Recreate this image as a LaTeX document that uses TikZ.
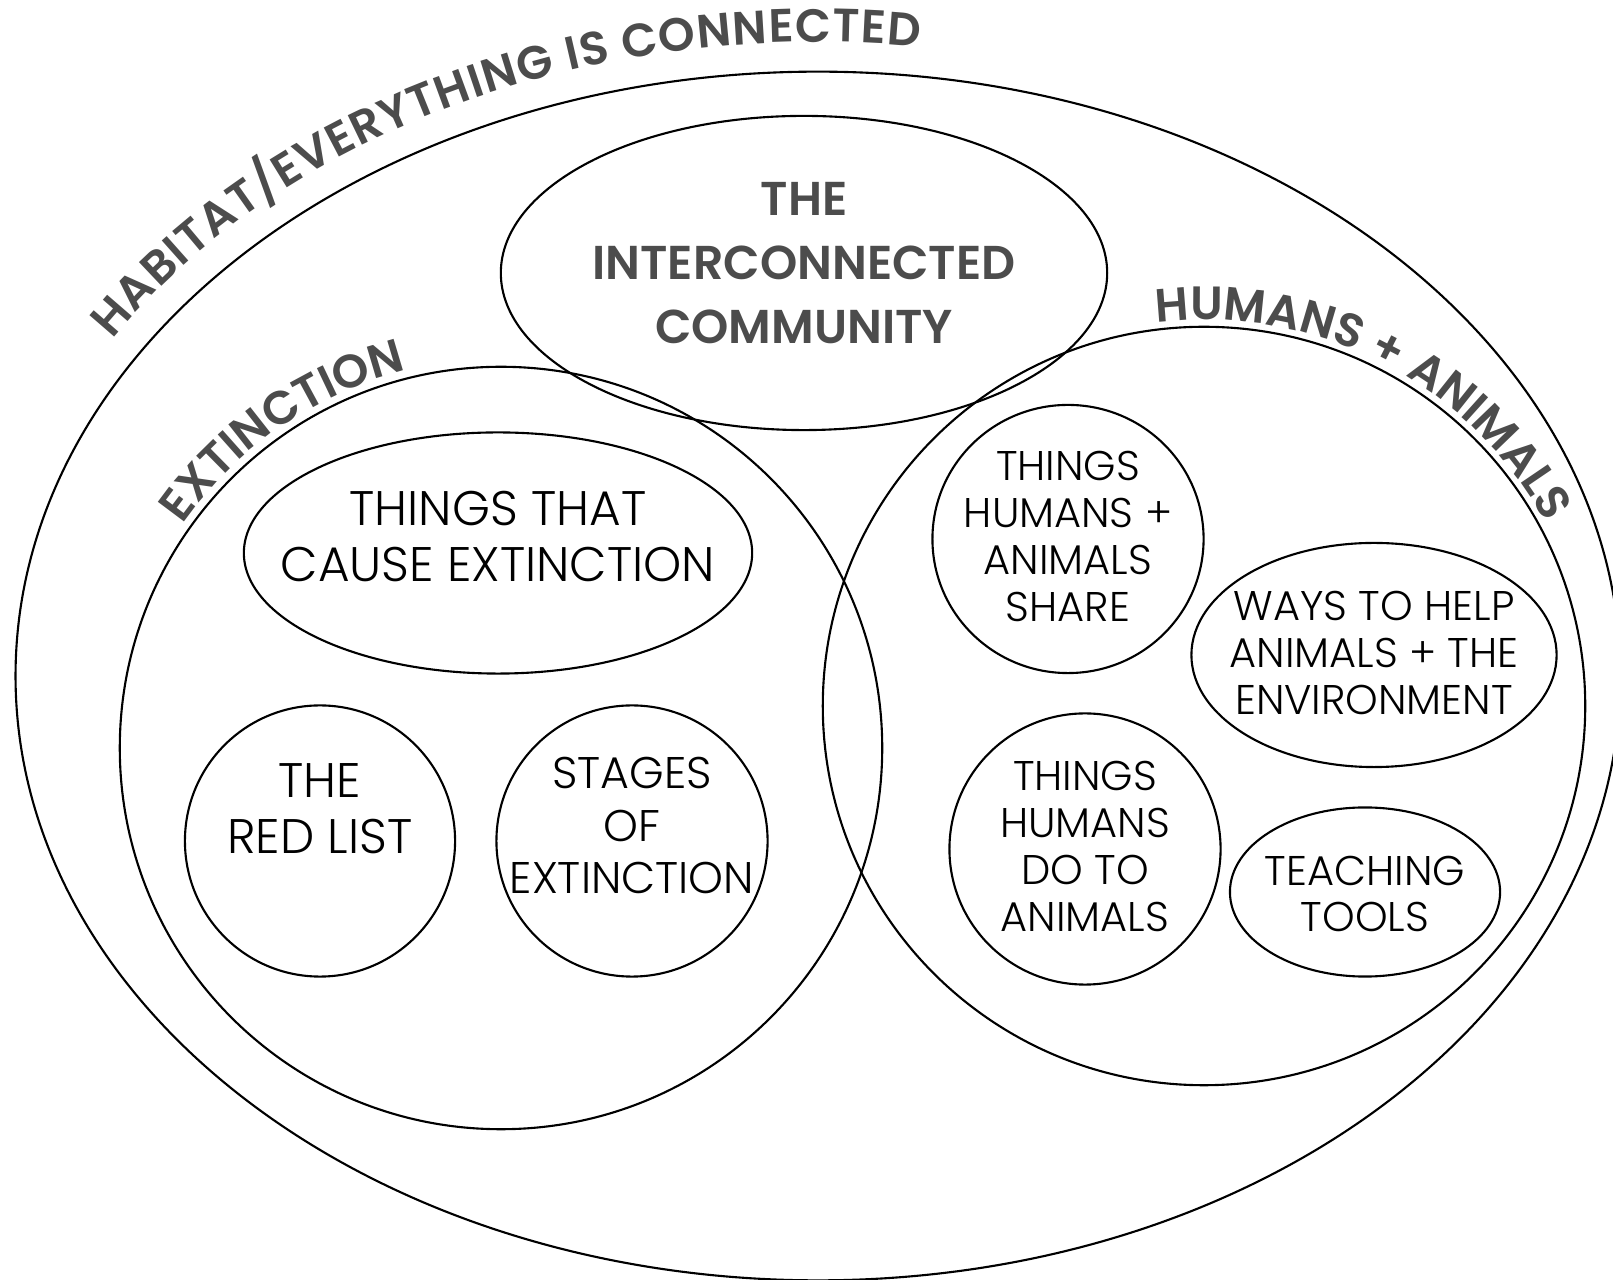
\documentclass[tikz,border=0pt]{standalone}
\usepackage{fontspec}
\setmainfont{Poppins}[UprightFont=* Light, BoldFont=* SemiBold]
\usetikzlibrary{shapes.geometric, decorations.text, positioning}

\begin{document}
\begin{tikzpicture}[
    x=0.01cm, y=0.01cm,
    bubble/.style={ellipse, draw, line width=0.6pt, inner sep=0pt},
    big/.style={align=center, font=\fontsize{13.8}{15.9}\selectfont},
    mid/.style={align=center, font=\fontsize{12.6}{14.8}\selectfont},
    small/.style={align=center, font=\fontsize{11.8}{13.3}\selectfont},
    heading/.style={align=center, text=black!70, font=\bfseries\fontsize{13.5}{18.2}\selectfont},
    arctitle/.style={decorate, decoration={text along path, text align=fit to path,
        text color=black!70, text={|\bfseries\fontsize{13.3}{16}\selectfont|#1}}}
]

    \useasboundingbox (0,0) rectangle (1613,1279);

    % Shapes -----------------------------------------------------

    \node[bubble, minimum width=16.04cm, minimum height=12.08cm] (habitat) at (818,603) {};
    \node[bubble, minimum width=6.06cm, minimum height=3.14cm] (community) at (804,1006) {};
    \node[bubble, minimum width=7.62cm, minimum height=7.62cm] (extinction) at (501,531) {};
    \node[bubble, minimum width=7.62cm, minimum height=7.58cm] (humans) at (1204,573) {};

    \node[bubble, minimum width=5.08cm, minimum height=2.41cm] (cause) at (498,726) {};
    \node[bubble, minimum width=2.70cm, minimum height=2.71cm] (redlist) at (320,438) {};
    \node[bubble, minimum width=2.71cm, minimum height=2.71cm] (stages) at (632,438) {};

    \node[bubble, minimum width=2.71cm, minimum height=2.68cm] (share) at (1068,740) {};
    \node[bubble, minimum width=3.65cm, minimum height=2.24cm] (ways) at (1374,624) {};
    \node[bubble, minimum width=2.71cm, minimum height=2.71cm] (doto) at (1085,430) {};
    \node[bubble, minimum width=2.70cm, minimum height=1.69cm] (teaching) at (1365,387) {};

    % Labels -----------------------------------------------------

    \node[heading] (community-t) at ([yshift=0.095cm]community.center) {THE\\INTERCONNECTED\\COMMUNITY};
    \node[big] (cause-t) at ([yshift=0.165cm]cause.center) {THINGS THAT\\CAUSE EXTINCTION};
    \node[big] (redlist-t) at ([yshift=0.32cm]redlist.center) {THE\\RED LIST};
    \node[mid] (stages-t) at ([yshift=0.155cm]stages.center) {STAGES\\OF\\EXTINCTION};
    \node[small] (share-t) at ([yshift=0.025cm]share.center) {THINGS\\HUMANS +\\ANIMALS\\SHARE};
    \node[small] (ways-t) at ([yshift=0.02cm]ways.center) {WAYS TO HELP\\ANIMALS + THE\\ENVIRONMENT};
    \node[small] (doto-t) at ([yshift=0.025cm]doto.center) {THINGS\\HUMANS\\DO TO\\ANIMALS};
    \node[small] (teaching-t) at ([yshift=-0.02cm]teaching.center) {TEACHING\\TOOLS};

    % Curved titles
    \path[arctitle={HABITAT/EVERYTHING IS CONNECTED}]
        (habitat.center) ++(148:832 and 634) arc[start angle=148, end angle=83, x radius=832, y radius=634];
    \path[arctitle={EXTINCTION}]
        (extinction.center) ++(145:389) arc[start angle=145, end angle=104, radius=389];
    \path[arctitle={HUMANS + ANIMALS}]
        (humans.center) ++(97:388 and 386) arc[start angle=97, end angle=30, x radius=388, y radius=386];

\end{tikzpicture}
\end{document}
